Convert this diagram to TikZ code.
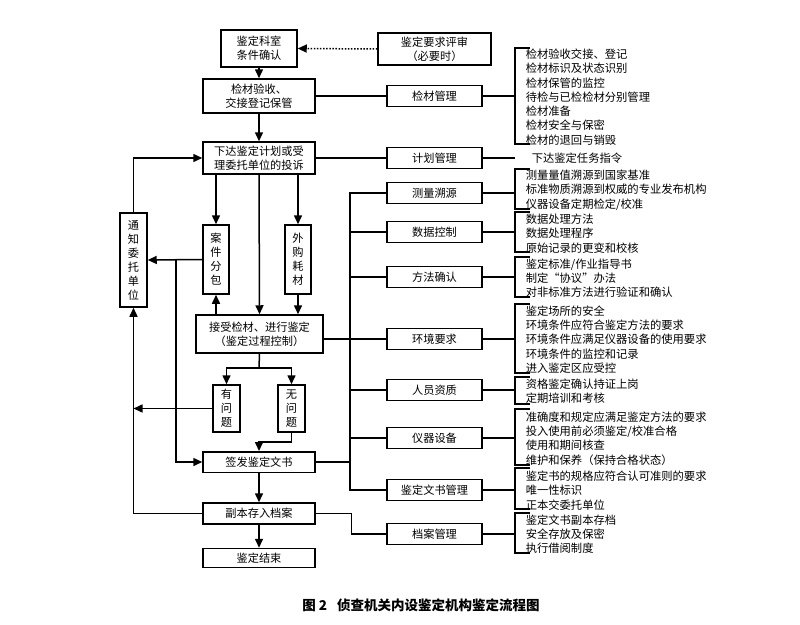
\documentclass[tikz,border=0pt]{standalone}
\usepackage{fontspec}
\setmainfont{Noto Sans CJK SC}
\usetikzlibrary{arrows.meta}
\begin{document}
\begin{tikzpicture}[x=1pt,y=-1pt,
  line width=1.5pt,
  box/.style={draw, line width=1.5pt, inner sep=0pt, align=center, font=\fontsize{11.2}{14}\selectfont},
  mbox/.style={box, minimum width=95pt, minimum height=21pt},
  lst/.style={anchor=west, inner sep=0pt, align=left, font=\fontsize{11.3}{14.3}\selectfont},
  arr/.style={-{Triangle[length=9pt,width=8pt]}},
  dots/.style={dash pattern=on 1.5pt off 1.6pt}
]
\useasboundingbox (0,0) rectangle (800,624);

% main column
\node[box, minimum width=76pt, minimum height=37pt] (n1) at (259,48.5) {鉴定科室\\条件确认};
\node[box, minimum width=113pt, minimum height=32pt] (req) at (434.5,49) {鉴定要求评审\\（必要时）};
\node[box, minimum width=112pt, minimum height=34pt] (n2) at (259,96) {检材验收、\\交接登记保管};
\node[box, minimum width=112pt, minimum height=32pt] (n3) at (259,158) {下达鉴定计划或受\\理委托单位的投诉};
\node[box, minimum width=27pt, minimum height=94pt] (tz) at (133.5,260) {通\\知\\委\\托\\单\\位};
\node[box, minimum width=26pt, minimum height=69pt] (fb) at (216,259.5) {案\\件\\分\\包};
\node[box, minimum width=26pt, minimum height=69pt] (wg) at (298,259.5) {外\\购\\耗\\材};
\node[box, minimum width=127pt, minimum height=38pt] (n4) at (259.5,334) {接受检材、进行鉴定\\（鉴定过程控制）};
\node[box, minimum width=27pt, minimum height=47pt] (yw) at (226.5,408.5) {有\\问\\题};
\node[box, minimum width=27pt, minimum height=47pt] (ww) at (291.5,408.5) {无\\问\\题};
\node[box, minimum width=112pt, minimum height=20.5pt] (n5) at (259,462) {签发鉴定文书};
\node[box, minimum width=112pt, minimum height=21pt] (n6) at (259,513.5) {副本存入档案};
\node[box, minimum width=112pt, minimum height=19pt] (n7) at (259,558) {鉴定结束};

% management boxes
\node[mbox] (m1) at (434.5,96) {检材管理};
\node[mbox] (m2) at (434.5,158) {计划管理};
\node[mbox] (h1) at (434.5,193) {测量溯源};
\node[mbox] (h2) at (434.5,232) {数据控制};
\node[mbox] (h3) at (434.5,277) {方法确认};
\node[mbox] (h4) at (434.5,339) {环境要求};
\node[mbox] (h5) at (434.5,390) {人员资质};
\node[mbox] (h6) at (434.5,438) {仪器设备};
\node[mbox] (h7) at (434.5,490) {鉴定文书管理};
\node[mbox] (h8) at (434.5,534) {档案管理};

% lists
\node[lst] (l1) at (525,97) {检材验收交接、登记\\检材标识及状态识别\\检材保管的监控\\待检与已检检材分别管理\\检材准备\\检材安全与保密\\检材的退回与销毁};
\node[lst] (l2) at (531,158) {下达鉴定任务指令};
\node[lst] (l3) at (525,190) {测量量值溯源到国家基准\\标准物质溯源到权威的专业发布机构\\仪器设备定期检定/校准};
\node[lst] (l4) at (525,233.5) {数据处理方法\\数据处理程序\\原始记录的更变和校核};
\node[lst] (l5) at (525,278) {鉴定标准/作业指导书\\制定“协议”办法\\对非标准方法进行验证和确认};
\node[lst] (l6) at (525,339.5) {鉴定场所的安全\\环境条件应符合鉴定方法的要求\\环境条件应满足仪器设备的使用要求\\环境条件的监控和记录\\进入鉴定区应受控};
\node[lst] (l7) at (525,391.5) {资格鉴定确认持证上岗\\定期培训和考核};
\node[lst] (l8) at (525,438.5) {准确度和规定应满足鉴定方法的要求\\投入使用前必须鉴定/校准合格\\使用和期间核查\\维护和保养（保持合格状态）};
\node[lst] (l9) at (525,490.5) {鉴定书的规格应符合认可准则的要求\\唯一性标识\\正本交委托单位};
\node[lst] (l10) at (525,534) {鉴定文书副本存档\\安全存放及保密\\执行借阅制度};

% caption
\node[font=\fontsize{13.5}{16}\selectfont\bfseries] (cap) at (421,605) {图 2\hspace{10pt}侦查机关内设鉴定机构鉴定流程图};

% helper coordinates
\coordinate (bkx) at (515,0);
\coordinate (bus) at (350,0);
\coordinate (j1) at (176,260);
\coordinate (j2) at (259,368);
\coordinate (j3) at (259,442);

% main flow
\draw[arr, dots] (req.west) -- (n1.east);
\draw[arr] (n1.south) -- (n2.north);
\draw[arr] (n2.south) -- (n3.north);
\draw (n2.east) -- (m1.west);
\draw (n3.east) -- (m2.west);
\draw[arr] (n3.south -| fb.north) -- (fb.north);
\draw[arr] (n3.south) -- (n4.north);
\draw[arr] (n3.south -| wg.north) -- (wg.north);
\draw[arr] (wg.south) -- (n4.north -| wg.south);
\draw[arr] (n4.north -| fb.south) -- (fb.south);
\draw[arr] (fb.west) -- (tz.east);
\draw[arr] (j1) |- (n5.west);
\draw[arr] (tz.north) |- (n3.west);
\draw (n4.south) -- (j2);
\draw[arr] (j2) -| (yw.north);
\draw[arr] (j2) -| (ww.north);
\draw[arr] (yw.west) -- (yw.west -| tz.south);
\draw[arr] (ww.south) |- (j3) -- (n5.north);
\draw[arr] (n5.south) -- (n6.north);
\draw[arr] (n6.south) -- (n7.north);
\draw[arr] (n6.west) -| (tz.south);

% bus to management boxes
\draw (h1.west) -| (bus |- h7.west) -- (h7.west);
\draw (bus |- h2.west) -- (h2.west);
\draw (bus |- h3.west) -- (h3.west);
\draw (n4.east |- h4.west) -- (h4.west);
\draw (bus |- h5.west) -- (h5.west);
\draw (bus |- h6.west) -- (h6.west);
\draw (n5.east) -- (bus |- n5.east);
\draw (n6.east) -- ([xshift=1.5pt]bus |- n6.east) |- (h8.west);

% connectors to brackets
\foreach \b in {m1,m2,h1,h2,h3,h4,h5,h6,h7,h8}
  \draw (\b.east) -- (\b.east -| bkx);

% brackets
\foreach \t/\u in {48/144, 169/209, 212/252, 257/297, 304/373, 377/404, 409/465, 468/509, 513/553}
  \draw (530,\t) -- (515,\t) -- (515,\u) -- (530,\u);
\end{tikzpicture}
\end{document}
